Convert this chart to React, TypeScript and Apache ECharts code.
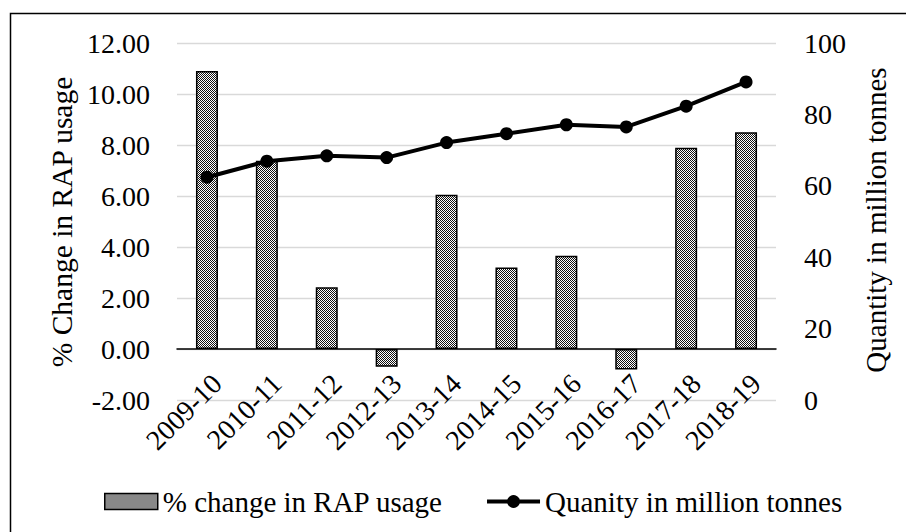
import React, { useEffect, useRef } from "react";
import * as echarts from "echarts";

const categories = ["2009-10", "2010-11", "2011-12", "2012-13", "2013-14", "2014-15", "2015-16", "2016-17", "2017-18", "2018-19"];
const pctChange = [10.9, 7.38, 2.42, -0.7, 6.05, 3.2, 3.66, -0.8, 7.89, 8.5];
const quantity = [62.4, 66.9, 68.4, 67.9, 72.1, 74.6, 77.1, 76.5, 82.3, 89.1];
const barName = "% change in RAP usage";
const lineName = "Quanity in million tonnes";
const leftTitle = "% Change in RAP usage";
const rightTitle = "Quantity in million tonnes";

const FONT = "Liberation Serif";

function makePattern(): HTMLCanvasElement {
  const c = document.createElement("canvas");
  c.width = 2;
  c.height = 2;
  const ctx = c.getContext("2d")!;
  ctx.fillStyle = "#ffffff";
  ctx.fillRect(0, 0, 2, 2);
  ctx.fillStyle = "#111111";
  ctx.fillRect(0, 0, 1, 1);
  ctx.fillRect(1, 1, 1, 1);
  return c;
}

export default function App() {
  const ref = useRef<HTMLDivElement>(null);
  useEffect(() => {
    if (!ref.current) return;
    const chart = echarts.init(ref.current, undefined, { renderer: "svg" });
    const pattern = { image: makePattern(), repeat: "repeat" };
    chart.setOption({
      animation: false,
      backgroundColor: "#ffffff",
      textStyle: { fontFamily: FONT, color: "#000" },
      grid: { left: 177, right: 130, top: 43, bottom: 132, containLabel: false },
      legend: {
        left: 99,
        top: 482,
        itemWidth: 53,
        itemHeight: 16,
        itemGap: 42,
        textStyle: { fontFamily: FONT, fontSize: 29, color: "#000" },
        data: [
          {
            name: barName,
            icon: "rect",
            itemStyle: { color: pattern, borderColor: "#000", borderWidth: 1.5 },
          },
          {
            name: lineName,
            lineStyle: { color: "#000", width: 4 },
            itemStyle: { color: "#000" },
          },
        ],
      },
      xAxis: {
        type: "category",
        data: categories,
        axisLine: { onZero: true, lineStyle: { color: "#000", width: 1.5 } },
        axisTick: { show: false },
        axisLabel: {
          rotate: 45,
          margin: -31,
          verticalAlign: "top",
          fontFamily: FONT,
          fontSize: 28,
          color: "#000",
          interval: 0,
        },
        splitLine: { show: false },
      },
      yAxis: [
        {
          type: "value",
          min: -2,
          max: 12,
          interval: 2,
          axisLine: { show: false },
          axisTick: { show: false },
          axisLabel: {
            margin: 27,
            fontFamily: FONT,
            fontSize: 28,
            color: "#000",
            formatter: (v: number) => v.toFixed(2),
          },
          splitLine: { lineStyle: { color: "#d9d9d9", width: 1.3 } },
        },
        {
          type: "value",
          min: 0,
          max: 100,
          interval: 20,
          position: "right",
          axisLine: { show: false },
          axisTick: { show: false },
          axisLabel: { margin: 28, fontFamily: FONT, fontSize: 28, color: "#000" },
          splitLine: { show: false },
        },
      ],
      series: [
        {
          name: barName,
          type: "bar",
          yAxisIndex: 0,
          data: pctChange,
          barWidth: 22,
          itemStyle: { color: pattern, borderColor: "#000", borderWidth: 1.5 },
        },
        {
          name: lineName,
          type: "line",
          yAxisIndex: 1,
          data: quantity,
          symbol: "circle",
          symbolSize: 13,
          lineStyle: { color: "#000", width: 4 },
          itemStyle: { color: "#000" },
          z: 5,
        },
      ],
      graphic: [
        {
          type: "rect",
          shape: { x: 10.5, y: 13.5, width: 920, height: 540 },
          style: { fill: "none", stroke: "#000", lineWidth: 1.5 },
          silent: true,
        },
        {
          type: "text",
          x: 62,
          y: 222,
          rotation: Math.PI / 2,
          style: {
            text: leftTitle,
            fontFamily: FONT,
            fontSize: 29.5,
            fill: "#000",
            align: "center",
            verticalAlign: "middle",
          },
        },
        {
          type: "text",
          x: 876,
          y: 220,
          rotation: Math.PI / 2,
          style: {
            text: rightTitle,
            fontFamily: FONT,
            fontSize: 29,
            fill: "#000",
            align: "center",
            verticalAlign: "middle",
          },
        },
      ],
    });
    return () => chart.dispose();
  }, []);
  return <div ref={ref} style={{ width: 906, height: 532, position: "fixed", left: 0, top: 0 }} />;
}
